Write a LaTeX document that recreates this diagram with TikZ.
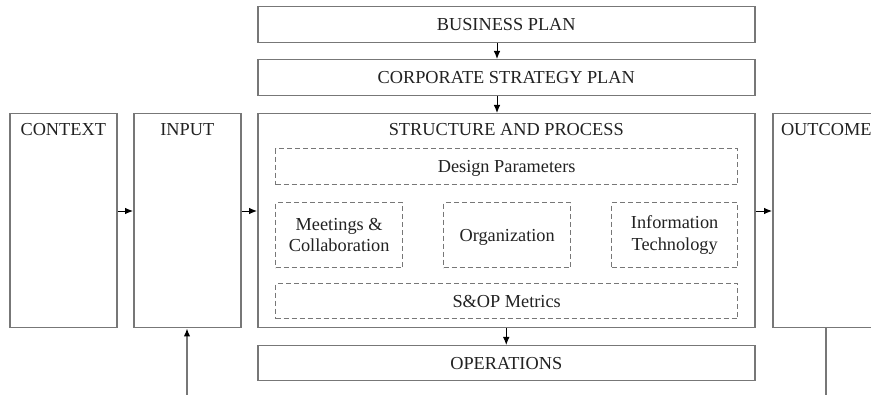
\documentclass[tikz,border=0pt]{standalone}
\usepackage{fontspec}
\setmainfont{Liberation Serif}
\usetikzlibrary{arrows.meta}
\definecolor{boxgray}{HTML}{777777}
\definecolor{txt}{HTML}{222222}
\begin{document}
\begin{tikzpicture}[x=1pt,y=-1pt,
  every node/.style={font=\fontsize{18.3}{21.7}\selectfont, text=txt},
  box/.style={draw=boxgray, line width=1.5pt, inner sep=0pt, anchor=north west, fill=white},
  dbox/.style={draw=boxgray, line width=1.3pt, dash pattern=on 5pt off 3pt, inner sep=0pt, anchor=north west, align=center},
  one/.style={text height=12.2pt, text depth=0pt},
  lbl/.style={inner sep=0pt, anchor=base},
  arr/.style={draw=black, line width=0.9pt, -{Latex[length=8pt,width=6.5pt,black]}},
  plain/.style={draw=boxgray, line width=1.3pt}
]
\useasboundingbox (0,0) rectangle (871,395);
% top and bottom boxes
\node[box, minimum width=497, minimum height=36] (bp) at (257,6) {BUSINESS PLAN};
\node[box, minimum width=497, minimum height=36] (cs) at (257,59) {CORPORATE STRATEGY PLAN};
\node[box, minimum width=497, minimum height=214] (sp) at (257,113) {};
\node[box, minimum width=497, minimum height=35] (ops) at (257,345) {OPERATIONS};
% side boxes
\node[box, minimum width=107, minimum height=214] (ctx) at (9,113) {};
\node[box, minimum width=107, minimum height=214] (inp) at (133,113) {};
\node[box, minimum width=107, minimum height=214] (out) at (772,113) {};
% titles
\node[lbl] (ctxt) at (ctx.north |- 0,136) {CONTEXT};
\node[lbl] (inpt) at (inp.north |- 0,136) {INPUT};
\node[lbl] (outt) at (out.north |- 0,136) {OUTCOME};
\node[lbl] (spt) at (sp.north |- 0,136) {STRUCTURE AND PROCESS};
% dashed inner boxes
\node[dbox, one, minimum width=462, minimum height=36] (dp) at (275,148) {Design Parameters};
\node[dbox, minimum width=127, minimum height=65] (mc) at (275,202) {Meetings \&\\Collaboration};
\node[dbox, one, minimum width=127, minimum height=65] (org) at (443,202) {Organization};
\node[dbox, minimum width=126, minimum height=65] (it) at (611,202) {Information\\Technology};
\node[dbox, one, minimum width=462, minimum height=35] (met) at (275,283) {S\&OP Metrics};
% connectors
\coordinate (ay) at (0,211);
\coordinate (ax) at (497,0);
\draw[arr] (bp.south -| ax) -- (cs.north -| ax);
\draw[arr] (cs.south -| ax) -- (sp.north -| ax);
\draw[arr] (sp.south) -- (ops.north);
\draw[arr] (ctx.east |- ay) -- (inp.west |- ay);
\draw[arr] (inp.east |- ay) -- (sp.west |- ay);
\draw[arr] (sp.east |- ay) -- (out.west |- ay);
\coordinate (inb) at (187,395);
\draw[arr, draw=boxgray, line width=1.3pt] (inb) -- (inb |- inp.south);
\coordinate (outb) at (826,395);
\draw[plain] (outb |- out.south) -- (outb);
\end{tikzpicture}
\end{document}
